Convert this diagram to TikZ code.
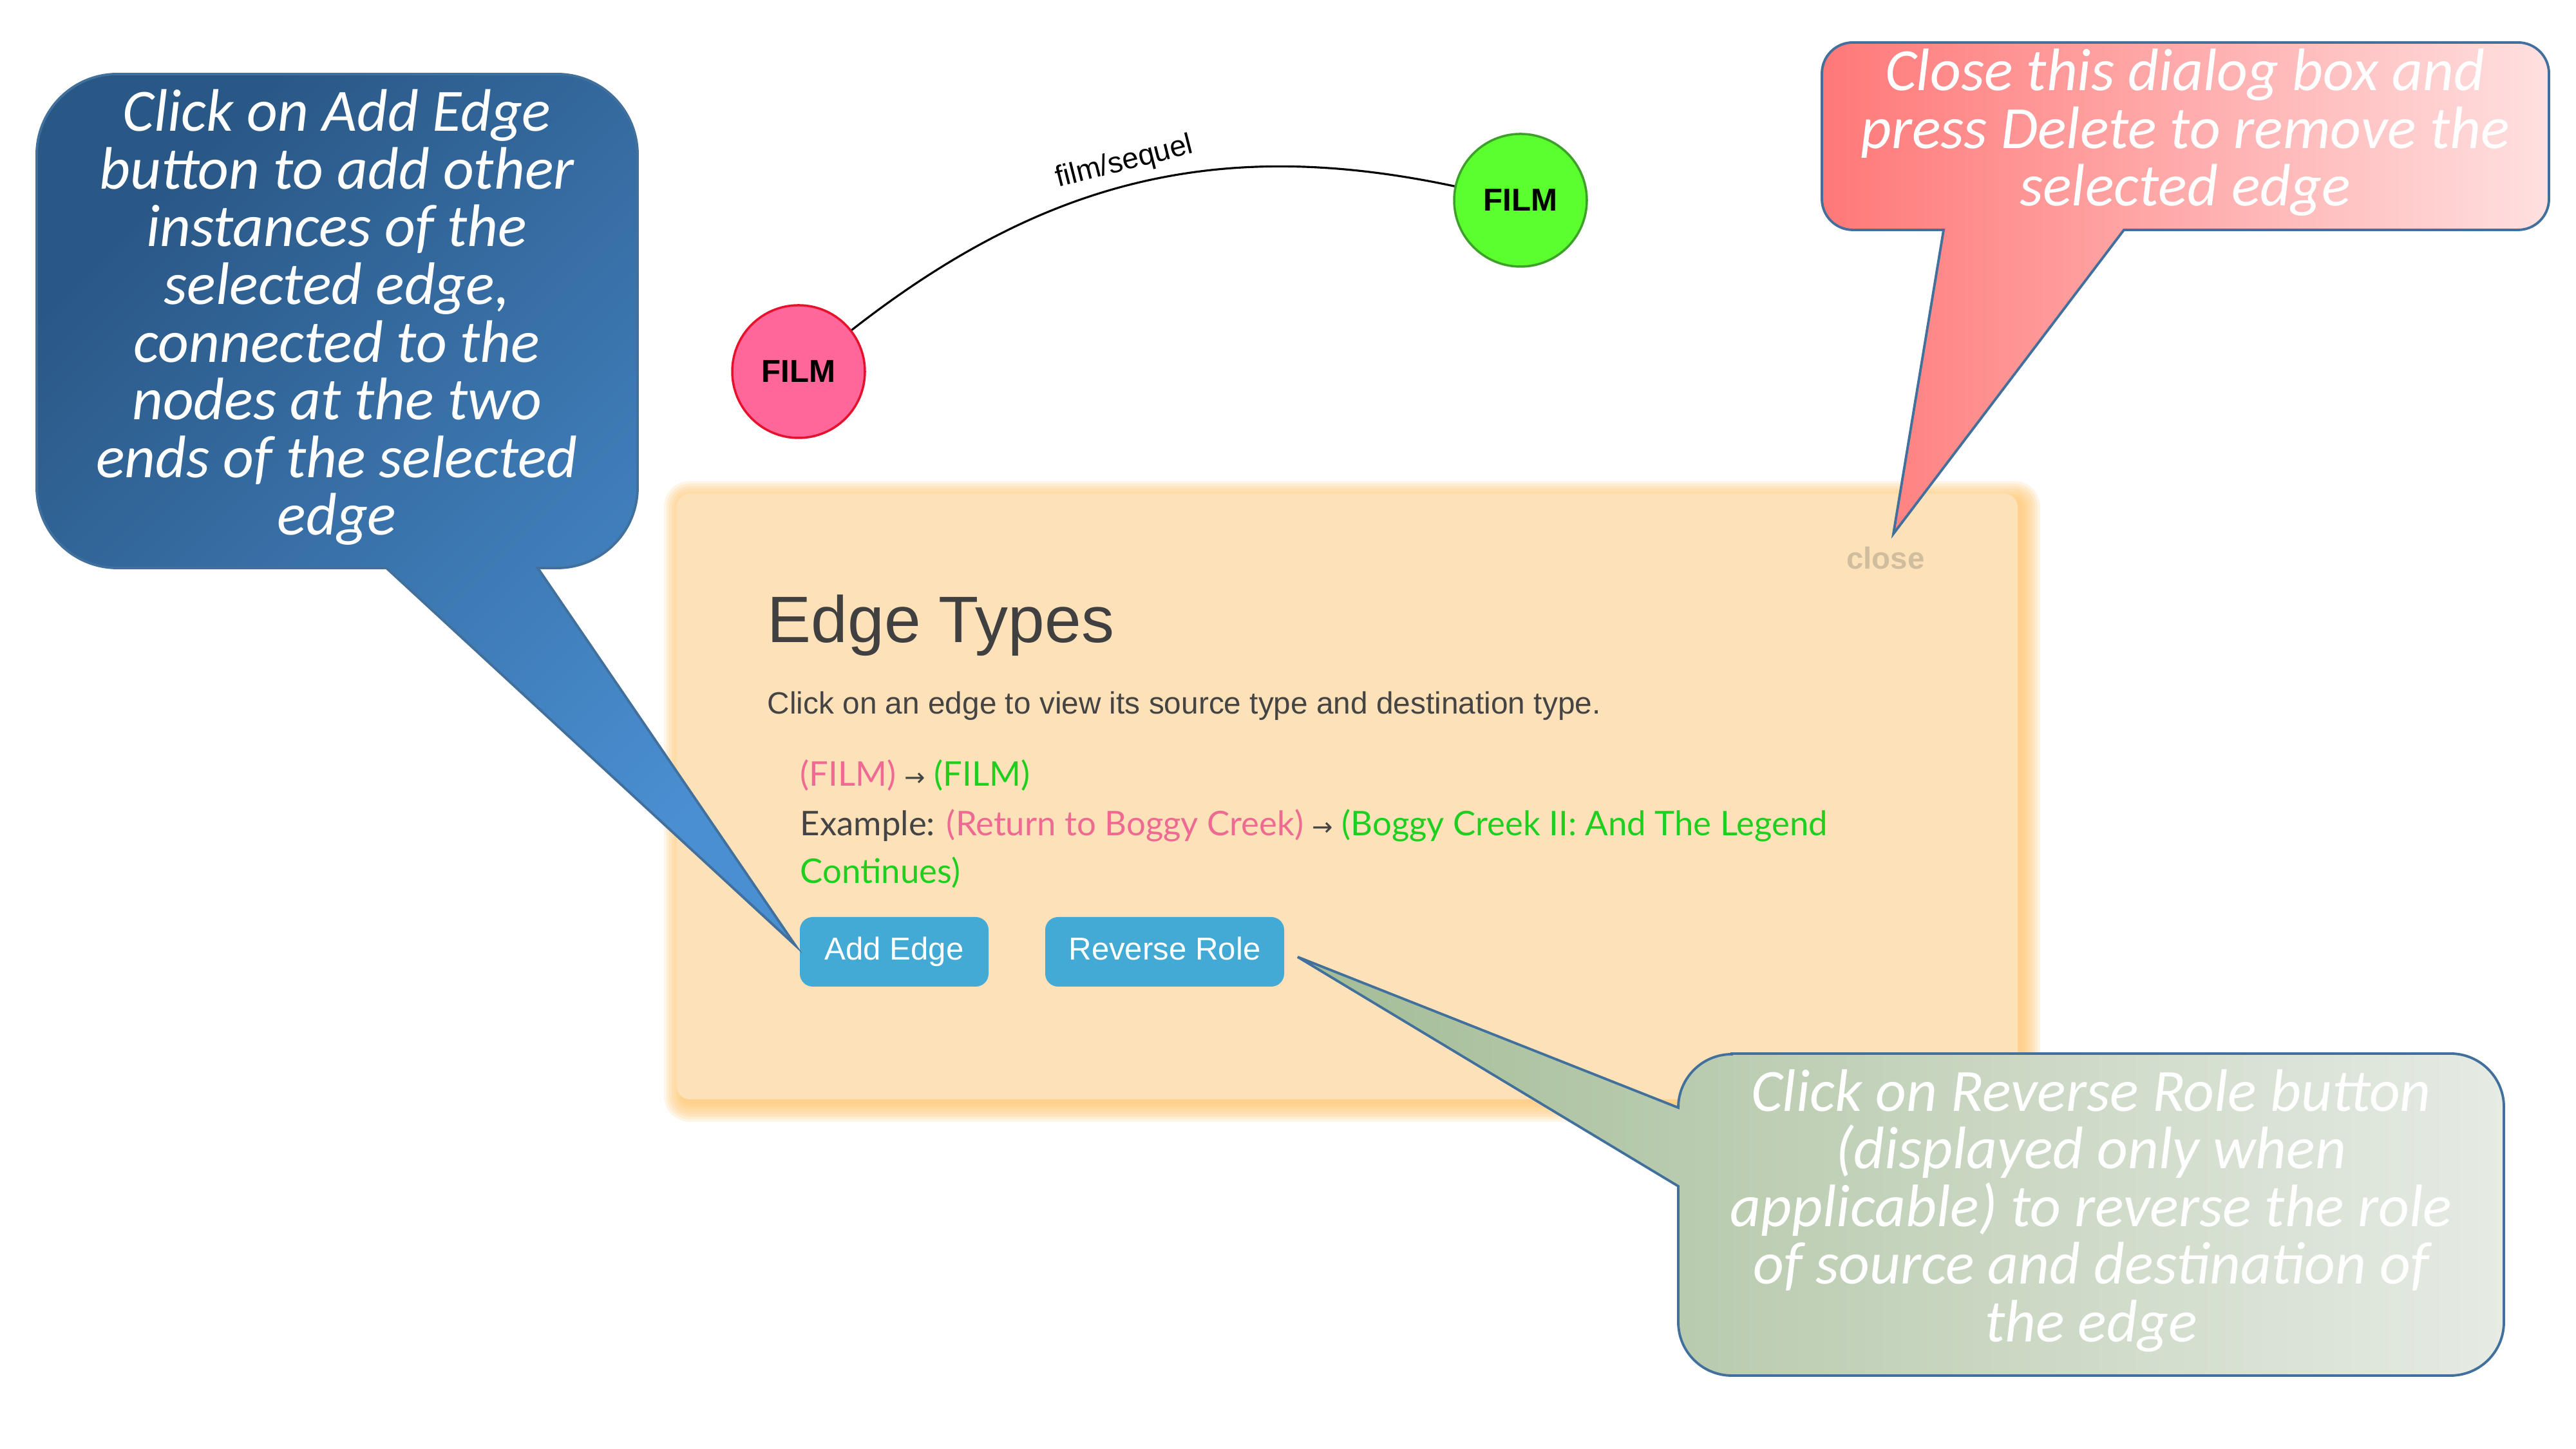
\documentclass[tikz,border=0pt]{standalone}
\usepackage{fontspec}
\setmainfont{Liberation Sans}
\newfontfamily\handfont{Carlito}
\newfontfamily\uifont{Lato}
\newfontfamily\symfont{DejaVu Sans}

\definecolor{bluedark}{HTML}{2A5886}
\definecolor{bluelight}{HTML}{4A8FD2}
\definecolor{pinkleft}{HTML}{FF7878}
\definecolor{pinkright}{HTML}{FFE0E0}
\definecolor{greenleft}{HTML}{A3BC95}
\definecolor{greenright}{HTML}{E6EBE4}
\definecolor{calloutline}{HTML}{41709C}
\definecolor{filmpink}{HTML}{FF6699}
\definecolor{filmpinkline}{HTML}{E8112D}
\definecolor{filmgreen}{HTML}{5CFF2E}
\definecolor{filmgreenline}{HTML}{3CA02A}
\definecolor{btnblue}{HTML}{43AAD5}
\definecolor{dialogbg}{HTML}{FDE1B9}
\definecolor{glow}{HTML}{FFC36A}
\definecolor{closegray}{HTML}{CFBD9E}
\definecolor{titlegray}{HTML}{404040}
\definecolor{bodygray}{HTML}{444444}
\definecolor{srcpink}{HTML}{EE6A93}
\definecolor{dstgreen}{HTML}{1FCF1F}

\begin{document}
\begin{tikzpicture}[x=1cm, y=1cm,
    filmnode/.style={circle, minimum size=2.06cm, inner sep=0pt, line width=1pt, font=\bfseries\fontsize{14}{16}\selectfont},
    button/.style={rectangle, rounded corners=0.2cm, fill=btnblue, text=white, minimum height=1.08cm, inner sep=0pt, text height=10pt, text depth=3pt, font=\fontsize{14}{16}\selectfont},
    dlgtext/.style={anchor=base west, inner sep=0pt},
    glowlayer/.style={glow, opacity=0.17},
    callout/.style={draw=calloutline, line width=1.1pt},
    handtext/.style={text=white, align=center, font=\handfont\itshape\fontsize{26.5}{25.5}\selectfont}]
    \useasboundingbox (0,0) rectangle (40,22.5);

    \coordinate (bluetip) at (12.35,7.82);
    \coordinate (pinktip) at (29.40,14.21);
    \coordinate (greentip) at (20.15,7.64);

    % dialog box with its glow
    \fill[glowlayer, rounded corners=0.40cm] (10.31,5.08) rectangle (31.68,15.03);
    \fill[glowlayer, rounded corners=0.36cm] (10.35,5.12) rectangle (31.64,14.99);
    \fill[glowlayer, rounded corners=0.32cm] (10.39,5.16) rectangle (31.60,14.95);
    \fill[glowlayer, rounded corners=0.28cm] (10.43,5.20) rectangle (31.56,14.91);
    \fill[glowlayer, rounded corners=0.24cm] (10.47,5.24) rectangle (31.52,14.87);
    \fill[glowlayer, rounded corners=0.20cm] (10.51,5.28) rectangle (31.48,14.83);
    \fill[glowlayer, rounded corners=0.16cm] (10.55,5.32) rectangle (31.44,14.79);
    \fill[glowlayer, rounded corners=0.12cm] (10.59,5.36) rectangle (31.40,14.75);
    \fill[dialogbg, rounded corners=0.2cm] (10.51,5.43) rectangle (31.33,14.83);

    \node[filmnode, fill=filmpink, draw=filmpinkline] (film1) at (12.40,16.73) {FILM};
    \node[filmnode, fill=filmgreen, draw=filmgreenline] (film2) at (23.61,19.39) {FILM};
    \draw[line width=0.9pt] (film1) to[out=38, in=168]
        node[pos=0.49, above, sloped, inner sep=3.5pt, font=\fontsize{13}{15}\selectfont] (sequel) {film/sequel} (film2);

    \node[font=\bfseries\fontsize{13.5}{16}\selectfont, text=closegray] (close) at (29.28,13.83) {close};
    \node[dlgtext, font=\fontsize{29}{34}\selectfont, text=titlegray] (title) at (11.91,12.52) {Edge Types};
    \node[dlgtext, font=\fontsize{13.6}{16}\selectfont, text=bodygray] (hint) at (11.91,11.41) {Click on an edge to view its source type and destination type.};
    \node[dlgtext, font=\uifont\fontsize{15}{18}\selectfont] (types) at (12.42,10.29)
        {\textcolor{srcpink}{(FILM)} {\symfont\fontsize{11}{13}\selectfont\textcolor{bodygray}{→}} \textcolor{dstgreen}{(FILM)}};
    \node[dlgtext, font=\uifont\fontsize{15}{18}\selectfont] (example) at (12.42,9.52)
        {\textcolor{bodygray}{Example:} \textcolor{srcpink}{(Return to Boggy Creek)} {\symfont\fontsize{11}{13}\selectfont\textcolor{bodygray}{→}} \textcolor{dstgreen}{(Boggy Creek II: And The Legend}};
    \node[dlgtext, font=\uifont\fontsize{15}{18}\selectfont, text=dstgreen] (continues) at (12.42,8.78) {Continues)};

    \node[button, minimum width=2.93cm] (addedge) at (13.885,7.72) {Add Edge};
    \node[button, minimum width=3.71cm] (reverse) at (18.085,7.72) {Reverse Role};

    % callouts
    \shadedraw[callout, top color=bluedark, bottom color=bluelight, shading angle=45]
        (1.82,21.35) -- (8.65,21.35) arc[start angle=90, end angle=0, radius=1.25]
        -- (9.90,14.93) arc[start angle=0, end angle=-90, radius=1.25]
        -- (8.35,13.68) -- (bluetip) -- (6.00,13.68)
        -- (1.82,13.68) arc[start angle=-90, end angle=-180, radius=1.25]
        -- (0.57,20.10) arc[start angle=180, end angle=90, radius=1.25] -- cycle;
    \shadedraw[callout, left color=pinkleft, right color=pinkright]
        (28.77,21.84) -- (39.10,21.84) arc[start angle=90, end angle=0, radius=0.48]
        -- (39.58,19.41) arc[start angle=0, end angle=-90, radius=0.48]
        -- (32.98,18.93) -- (pinktip) -- (30.18,18.93)
        -- (28.77,18.93) arc[start angle=-90, end angle=-180, radius=0.48]
        -- (28.29,21.36) arc[start angle=180, end angle=90, radius=0.48] -- cycle;
    \shadedraw[callout, left color=greenleft, right color=greenright]
        (26.89,6.14) -- (38.05,6.14) arc[start angle=90, end angle=0, radius=0.83]
        -- (38.88,1.97) arc[start angle=0, end angle=-90, radius=0.83]
        -- (26.89,1.14) arc[start angle=-90, end angle=-180, radius=0.83]
        -- (26.06,4.08) -- (greentip) -- (26.06,5.30)
        arc[start angle=180, end angle=90, radius=0.83] -- cycle;

    \node[handtext] (bluetext) at (5.23,17.57) {Click on Add Edge\\button to add other\\instances of the\\selected edge,\\connected to the\\nodes at the two\\ends of the selected\\edge};
    \node[handtext] (pinktext) at (33.93,20.44) {Close this dialog box and\\press Delete to remove the\\selected edge};
    \node[handtext] (greentext) at (32.47,3.70) {Click on Reverse Role button\\(displayed only when\\applicable) to reverse the role\\of source and destination of\\the edge};

\end{tikzpicture}
\end{document}
